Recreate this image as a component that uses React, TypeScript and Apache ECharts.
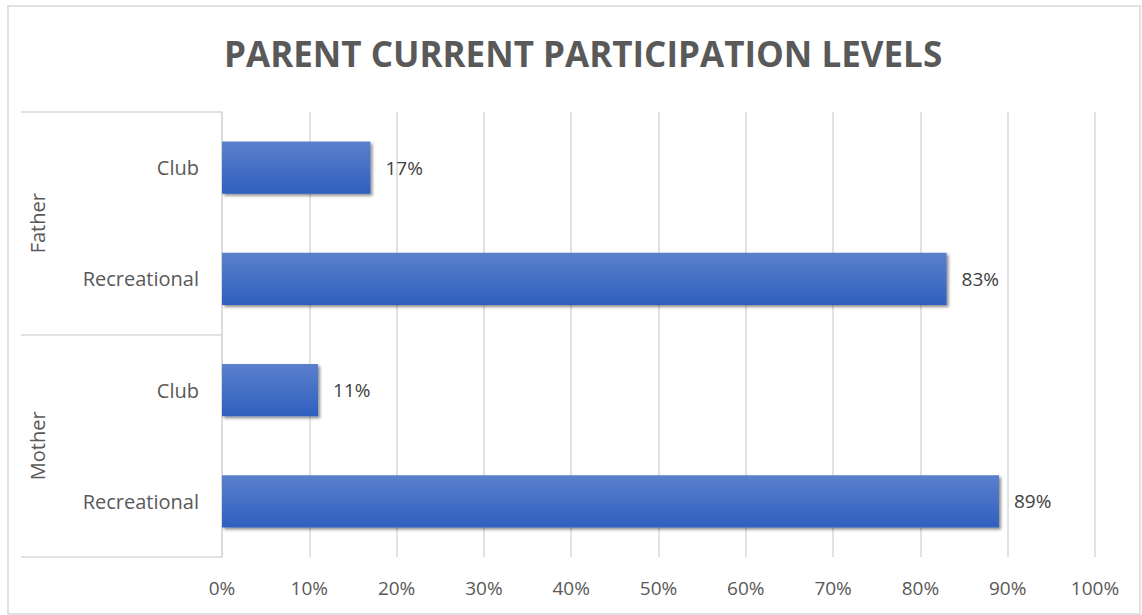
import React, { useEffect, useRef } from "react";
import * as echarts from "echarts";

const categories = ["Father|Club", "Father|Recreational", "Mother|Club", "Mother|Recreational"];
const groups = ["Father", "Mother"];
const values = [17, 83, 11, 89];
const xTicks = [0, 10, 20, 30, 40, 50, 60, 70, 80, 90, 100];

const FONT = "'Open Sans', 'Noto Sans', sans-serif";

export default function App() {
  const ref = useRef<HTMLDivElement>(null);
  useEffect(() => {
    const chart = echarts.init(ref.current!, null, { renderer: "svg" });
    chart.setOption({
      animation: false,
      backgroundColor: "#ffffff",
      title: {
        text: "PARENT CURRENT PARTICIPATION LEVELS",
        left: 219,
        top: 31,
        textStyle: { fontFamily: FONT, fontSize: 35, fontWeight: "bold", color: "#595959" },
      },
      graphic: [
        {
          type: "rect",
          shape: { x: 8, y: 6, width: 1132, height: 608 },
          style: { fill: "none", stroke: "#d9d9d9", lineWidth: 1.5 },
          silent: true,
        },
      ],
      grid: { left: 222, right: 47, top: 112, bottom: 58, containLabel: false },
      xAxis: {
        type: "value",
        min: 0,
        max: 100,
        interval: 10,
        axisLine: { show: false },
        axisTick: { show: false },
        splitLine: { show: true, lineStyle: { color: "#d9d9d9", width: 1.5 } },
        axisLabel: {
          margin: 21,
          fontFamily: FONT,
          fontSize: 19,
          color: "#595959",
          formatter: (v: number) => (xTicks.includes(v) ? v + "%" : ""),
        },
      },
      yAxis: [
        {
          type: "category",
          data: categories,
          inverse: true,
          axisLine: { show: true, lineStyle: { color: "#d9d9d9", width: 1.5 } },
          axisTick: { show: false },
          axisLabel: {
            margin: 23,
            fontFamily: FONT,
            fontSize: 20,
            color: "#595959",
            formatter: (v: string) => v.split("|")[1],
          },
        },
        {
          type: "category",
          data: groups,
          inverse: true,
          position: "left",
          axisLine: { show: false },
          axisTick: { show: true, length: 201, lineStyle: { color: "#d9d9d9", width: 1.5 } },
          axisLabel: {
            rotate: 90,
            margin: 175,
            fontFamily: FONT,
            fontSize: 20,
            color: "#595959",
          },
        },
      ],
      series: [
        {
          type: "bar",
          yAxisIndex: 0,
          data: values,
          barWidth: "47%",
          itemStyle: {
            color: new echarts.graphic.LinearGradient(0, 0, 0, 1, [
              { offset: 0, color: "#5b80cd" },
              { offset: 1, color: "#2f5fbe" },
            ]),
            shadowColor: "rgba(0,0,0,0.45)",
            shadowBlur: 3,
            shadowOffsetX: 2,
            shadowOffsetY: 2,
          },
          label: {
            show: true,
            position: "right",
            distance: 15,
            fontFamily: FONT,
            fontSize: 19,
            color: "#404040",
            formatter: (p: any) => p.value + "%",
          },
        },
      ],
    });
    return () => chart.dispose();
  }, []);
  return <div ref={ref} style={{ position: "fixed", left: 0, top: 0, width: 1142, height: 615 }} />;
}
